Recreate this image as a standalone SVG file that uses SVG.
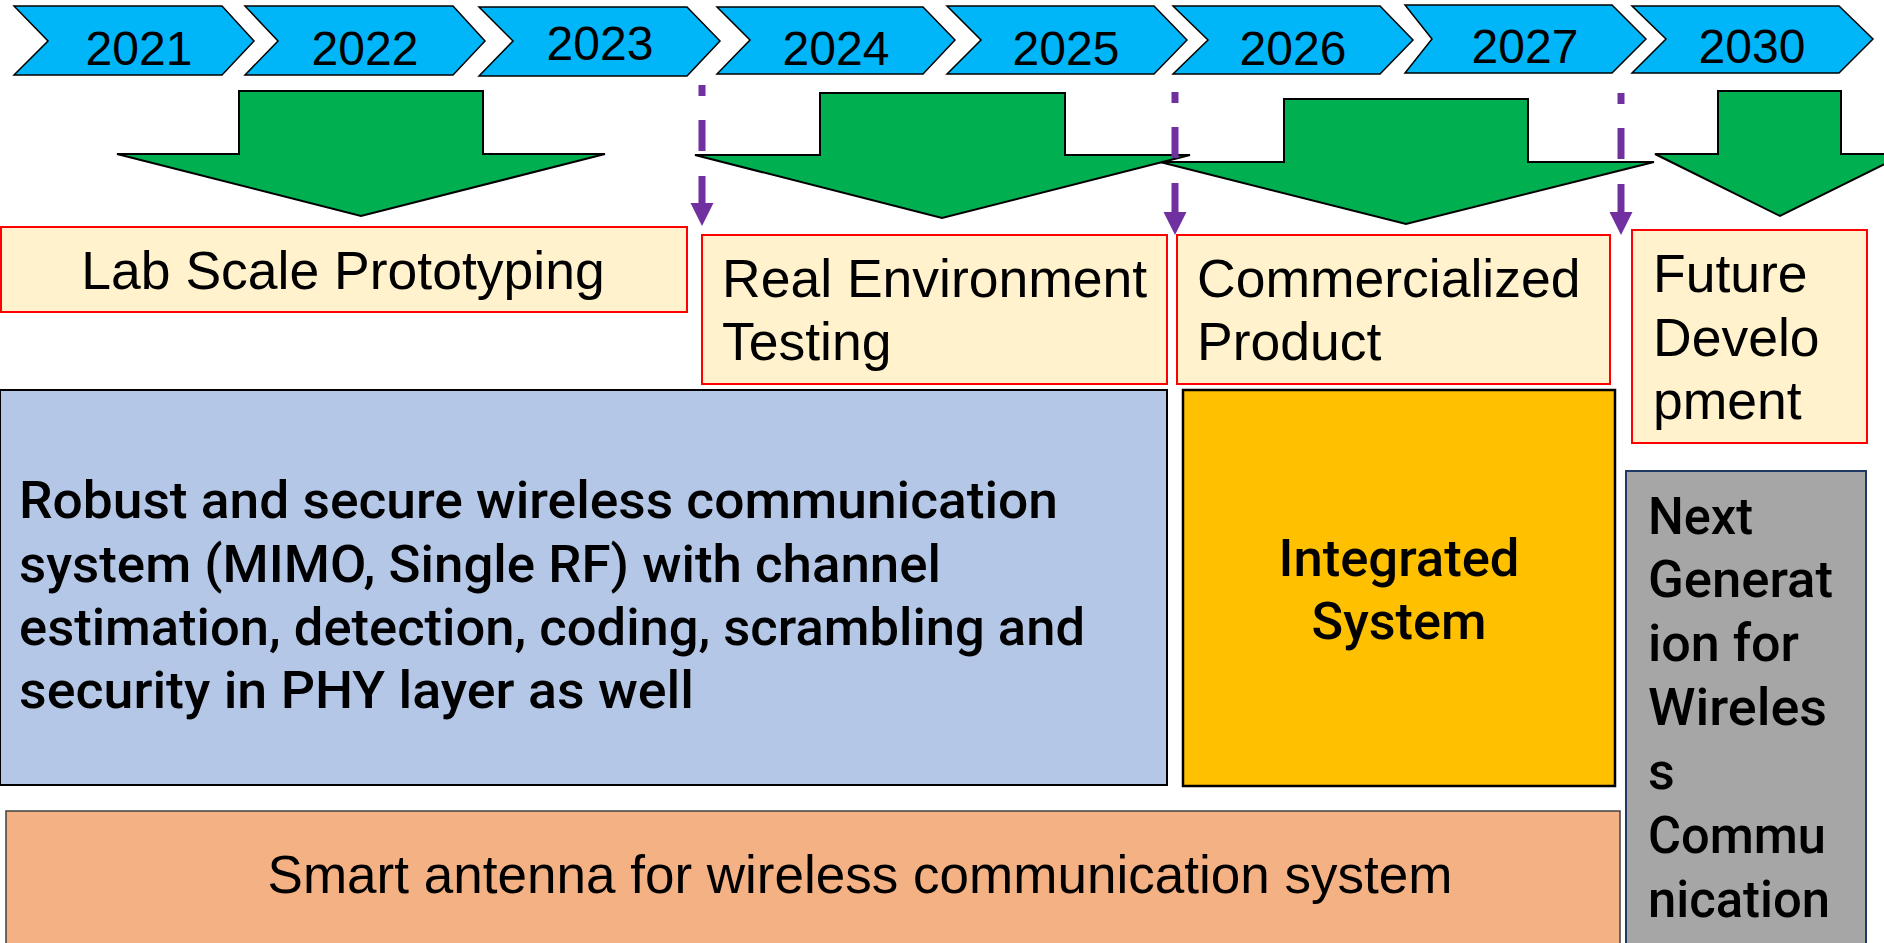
<svg xmlns="http://www.w3.org/2000/svg" width="1884" height="943" viewBox="0 0 1884 943">
  <defs>
    <style>
      .chev{fill:#00B6F8;stroke:#000;stroke-width:1.5}
      .year{font-family:"Liberation Sans",Arial,sans-serif;font-size:48px;fill:#000;text-anchor:middle}
      .flow{fill:#00AF50;stroke:#000;stroke-width:2}
      .stage{fill:#FFF2CC;stroke:#FF0000;stroke-width:2}
      .lbl{font-family:"Liberation Sans",Arial,sans-serif;font-size:53.5px;fill:#000}
      .din{font-family:Roboto,"DejaVu Sans",sans-serif;font-size:52px;font-weight:500;fill:#000}
      .link{fill:none;stroke:#7030A0;stroke-width:7;stroke-dasharray:11 24 31 25 200}
    </style>
    <marker id="head" markerUnits="userSpaceOnUse" markerWidth="24" markerHeight="24" viewBox="0 -12 24 24" refX="0" refY="0" orient="auto">
      <path d="M0,-11.5 L23,0 L0,11.5 Z" fill="#7030A0"/>
    </marker>
  </defs>
  <rect width="1884" height="943" fill="#fff"/>

  <!-- timeline chevrons -->
  <g id="y2021"><polygon class="chev" points="14,6 222,6 254,41 222,75 14,75 48,41"/><text class="year" x="139" y="65">2021</text></g>
  <g id="y2022"><polygon class="chev" points="245,6 453,6 485,41 453,75 245,75 278,41"/><text class="year" x="365" y="65">2022</text></g>
  <g id="y2023"><polygon class="chev" points="479,7 687,7 720,41 687,76 479,76 513,41"/><text class="year" x="600" y="60">2023</text></g>
  <g id="y2024"><polygon class="chev" points="717,7 923,7 955,40 923,74 717,74 750,40"/><text class="year" x="836" y="65">2024</text></g>
  <g id="y2025"><polygon class="chev" points="947,6 1154,6 1187,40 1154,74 947,74 981,40"/><text class="year" x="1066" y="65">2025</text></g>
  <g id="y2026"><polygon class="chev" points="1173,6 1380,6 1413,40 1380,74 1173,74 1208,40"/><text class="year" x="1293" y="65">2026</text></g>
  <g id="y2027"><polygon class="chev" points="1405,5 1612,5 1646,39 1612,73 1405,73 1432,39"/><text class="year" x="1525" y="63">2027</text></g>
  <g id="y2030"><polygon class="chev" points="1632,6 1839,6 1873,39 1839,73 1632,73 1666,39"/><text class="year" x="1752" y="63">2030</text></g>

  <!-- phase block arrows -->
  <g id="flow1"><polygon class="flow" points="239,91 483,91 483,154 605,154 361,216 117,154 239,154"/></g>
  <g id="flow3"><polygon class="flow" points="1284,99 1528,99 1528,162 1654,162 1406,224 1160,162 1284,162"/></g>
  <g id="flow2"><polygon class="flow" points="820,93 1065,93 1065,155 1190,155 942,218 695,155 820,155"/></g>
  <g id="flow4"><polygon class="flow" points="1718,91 1841,91 1841,154 1905,154 1780,216 1655,154 1718,154"/></g>

  <!-- stage boxes -->
  <g id="lab">
    <rect class="stage" x="1" y="227" width="686" height="85"/>
    <text class="lbl" x="343" y="289" text-anchor="middle">Lab Scale Prototyping</text>
  </g>
  <g id="testing">
    <rect class="stage" x="702" y="235" width="465" height="149"/>
    <text class="lbl" x="722" y="297">Real Environment</text>
    <text class="lbl" x="722" y="360">Testing</text>
  </g>
  <g id="product">
    <rect class="stage" x="1177" y="235" width="433" height="149"/>
    <text class="lbl" x="1197" y="297">Commercialized</text>
    <text class="lbl" x="1197" y="360">Product</text>
  </g>
  <g id="future">
    <rect class="stage" x="1632" y="230" width="235" height="213"/>
    <text class="lbl" x="1653" y="292">Future</text>
    <text class="lbl" x="1653" y="356">Develo</text>
    <text class="lbl" x="1653" y="419">pment</text>
  </g>

  <!-- work packages -->
  <g id="wireless">
    <rect x="0" y="390" width="1167" height="395" fill="#B4C7E7" stroke="#000" stroke-width="2"/>
    <text class="din" x="19" y="518" textLength="1039" lengthAdjust="spacingAndGlyphs">Robust and secure wireless communication</text>
    <text class="din" x="19" y="582" textLength="922" lengthAdjust="spacingAndGlyphs">system (MIMO, Single RF) with channel</text>
    <text class="din" x="19" y="645" textLength="1066" lengthAdjust="spacingAndGlyphs">estimation, detection, coding, scrambling and</text>
    <text class="din" x="19" y="708" textLength="675" lengthAdjust="spacingAndGlyphs">security in PHY layer as well</text>
  </g>
  <g id="integrated">
    <rect x="1183" y="390" width="432" height="396" fill="#FFC000" stroke="#000" stroke-width="2.5"/>
    <text class="din" x="1399" y="576" text-anchor="middle" textLength="241" lengthAdjust="spacingAndGlyphs">Integrated</text>
    <text class="din" x="1399" y="639" text-anchor="middle" textLength="175" lengthAdjust="spacingAndGlyphs">System</text>
  </g>
  <g id="nextgen">
    <rect x="1626" y="471" width="240" height="480" fill="#A6A6A6" stroke="#1F3864" stroke-width="2"/>
    <text class="din" x="1648" y="534" textLength="105" lengthAdjust="spacingAndGlyphs">Next</text>
    <text class="din" x="1648" y="597" textLength="185" lengthAdjust="spacingAndGlyphs">Generat</text>
    <text class="din" x="1648" y="661" textLength="151" lengthAdjust="spacingAndGlyphs">ion for</text>
    <text class="din" x="1648" y="725" textLength="179" lengthAdjust="spacingAndGlyphs">Wireles</text>
    <text class="din" x="1648" y="789">s</text>
    <text class="din" x="1648" y="853" textLength="178" lengthAdjust="spacingAndGlyphs">Commu</text>
    <text class="din" x="1648" y="917" textLength="182" lengthAdjust="spacingAndGlyphs">nication</text>
  </g>
  <g id="antenna">
    <rect x="6" y="811" width="1614" height="140" fill="#F4B183" stroke="#404040" stroke-width="1.5"/>
    <text class="lbl" x="860" y="893" text-anchor="middle" textLength="1185" lengthAdjust="spacingAndGlyphs">Smart antenna for wireless communication system</text>
  </g>

  <!-- milestone connectors -->
  <g id="connectors">
    <path class="link" d="M702,85 V203" marker-end="url(#head)"/>
    <path class="link" d="M1175,92 V212" marker-end="url(#head)"/>
    <path class="link" d="M1621,93 V212" marker-end="url(#head)"/>
  </g>
</svg>
